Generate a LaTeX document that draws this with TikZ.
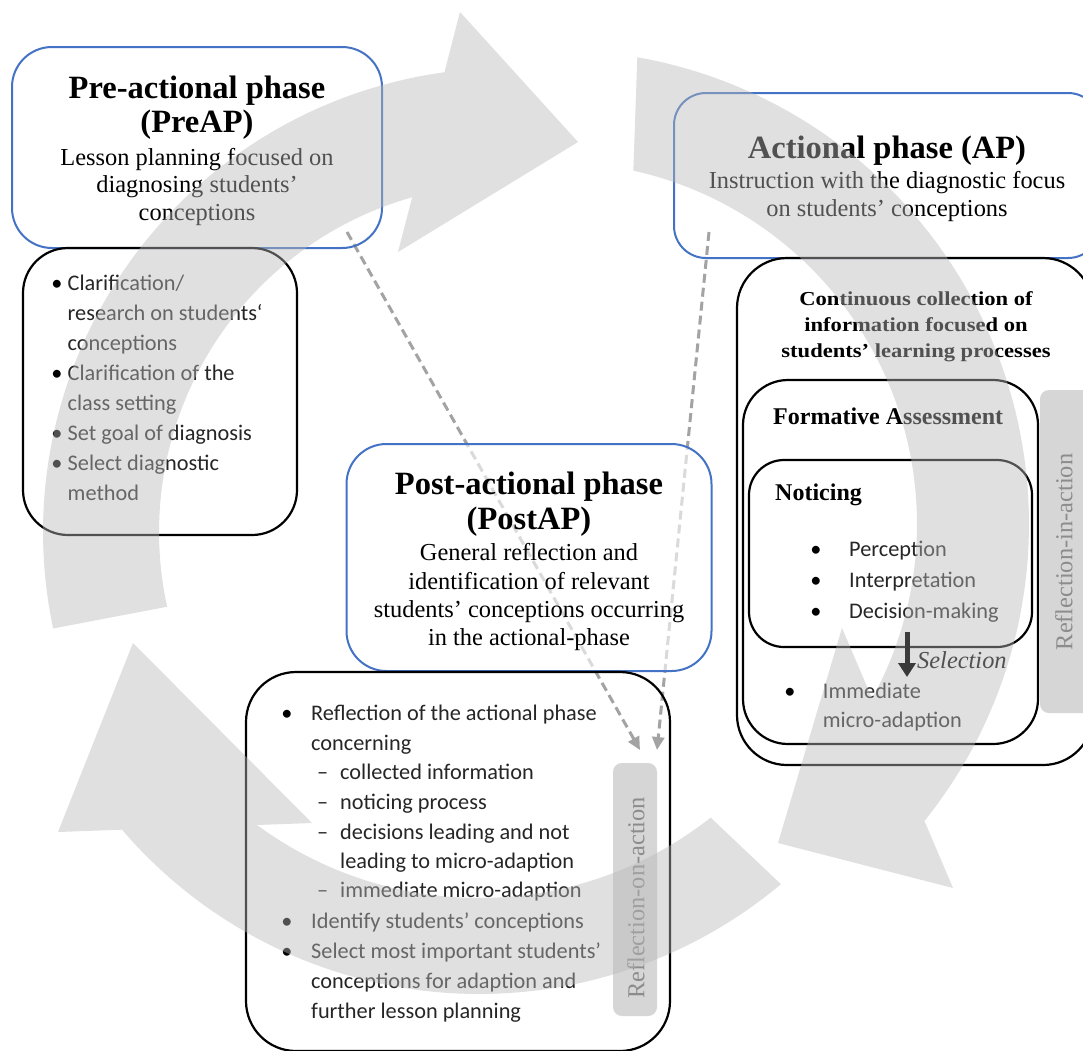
\documentclass[tikz,border=0pt]{standalone}
\usepackage{fontspec}
\setmainfont{Liberation Serif}
\newfontfamily\sansf{Carlito}
\newfontfamily\widef[FakeStretch=1.14]{Liberation Serif}
\usetikzlibrary{arrows.meta}
\definecolor{boxblue}{HTML}{4472C4}
\definecolor{dashgray}{HTML}{A3A3A3}
\definecolor{arcgray}{RGB}{185,185,185}
\definecolor{reflgray}{HTML}{D6D6D6}
\definecolor{refltext}{HTML}{8C8C8C}
\definecolor{selgray}{HTML}{3A3A3A}
\definecolor{listtext}{HTML}{262626}
\begin{document}
\begin{tikzpicture}[x=1pt,y=-1pt,
  phasebox/.style={draw=boxblue, line width=2pt, rounded corners=40pt, inner sep=0pt, rectangle},
  listbox/.style={draw=black, line width=2.2pt, rounded corners=#1, inner sep=0pt, rectangle},
  listbox/.default=45pt,
  reflbox/.style={fill=reflgray, rounded corners=9pt, inner sep=0pt, rectangle},
  ttl/.style={font=\bfseries\fontsize{32.5}{34}\selectfont, anchor=base, inner sep=0pt},
  sub/.style={font=\fontsize{24.4}{27.5}\selectfont, anchor=base, inner sep=0pt},
  hd/.style={font=\bfseries\fontsize{24}{27}\selectfont, anchor=base west, inner sep=0pt},
  wide/.style={font=\widef\bfseries\fontsize{19.8}{26}\selectfont, anchor=base, inner sep=0pt},
  li/.style={font=\sansf\fontsize{22.3}{30}\selectfont, anchor=base west, inner sep=0pt, text=listtext},
  bul/.style={font=\sansf\fontsize{22.3}{30}\selectfont, anchor=base, inner sep=0pt, text=black},
  refl/.style={font=\fontsize{24.4}{27}\selectfont, text=refltext, rotate=90, inner sep=0pt},
  dasharrow/.style={draw=dashgray, line width=3pt, dash pattern=on 9pt off 5pt, -{Triangle[length=13pt,width=12pt]}},
  selarrow/.style={draw=selgray, line width=5pt, -{Triangle[length=14pt,width=17pt]}},
  cyclearrow/.style={fill=arcgray, fill opacity=0.44}
]
\useasboundingbox (0,0) rectangle (1083,1050);
\clip (0,0) rectangle (1083,1050);
\fill[white] (0,0) rectangle (1083,1050);

% dashed connectors
\coordinate (d1s) at (347,232);
\coordinate (d1e) at (640,750);
\coordinate (d2s) at (709,232);
\coordinate (d2e) at (657,750);
\draw[dasharrow] (d1s) -- (d1e);
\draw[dasharrow] (d2s) -- (d2e);

% boxes
\node[phasebox, minimum width=370pt, minimum height=201pt] (prebox) at (197,147.5) {};
\node[listbox, minimum width=274pt, minimum height=287pt] (prelist) at (160,391.5) {};
\node[phasebox, rounded corners=32pt, minimum width=426pt, minimum height=165pt] (apbox) at (887,175.5) {};
\node[listbox=50pt, minimum width=356pt, minimum height=507pt] (apouter) at (915,511.5) {};
\node[listbox=45pt, minimum width=295pt, minimum height=364pt] (formbox) at (890.5,562) {};
\node[listbox=35pt, minimum width=283pt, minimum height=187pt] (notbox) at (890.5,553.5) {};
\node[reflbox, minimum width=60pt, minimum height=323pt] (rinbox) at (1070,551.5) {};
\node[phasebox, fill=white, fill opacity=0.6, minimum width=365pt, minimum height=227pt] (postbox) at (529,557.5) {};
\node[listbox=50pt, minimum width=424pt, minimum height=379pt] (postlist) at (458,861.5) {};
\node[reflbox, minimum width=44pt, minimum height=253pt] (ronbox) at (635,889.5) {};

% Pre-actional phase
\node[ttl] (pt1) at (197,98) {Pre-actional phase};
\node[ttl] (pt2) at (197,132) {(PreAP)};
\node[sub] (ps1) at (197,165) {Lesson planning focused on};
\node[sub] (ps2) at (197,192) {diagnosing students’};
\node[sub] (ps3) at (197,220) {conceptions};

\node[bul] (pb1) at (57,290) {•};
\node[li] (pl1) at (67.5,290) {Clarification/};
\node[li] (pl2) at (67.5,320) {research on students‘};
\node[li] (pl3) at (67.5,350) {conceptions};
\node[bul] (pb2) at (57,380) {•};
\node[li] (pl4) at (67.5,380) {Clarification of the};
\node[li] (pl5) at (67.5,410) {class setting};
\node[bul] (pb3) at (57,440) {•};
\node[li] (pl6) at (67.5,440) {Set goal of diagnosis};
\node[bul] (pb4) at (57,470) {•};
\node[li] (pl7) at (67.5,470) {Select diagnostic};
\node[li] (pl8) at (67.5,500) {method};

% Actional phase
\node[ttl] (at1) at (887,158) {Actional phase (AP)};
\node[sub] (as1) at (887,188) {Instruction with the diagnostic focus};
\node[sub] (as2) at (887,216) {on students’ conceptions};

\node[wide] (ac1) at (916,305) {Continuous collection of};
\node[wide] (ac2) at (916,331) {information focused on};
\node[wide] (ac3) at (916,357) {students’ learning processes};

\node[hd] (fa) at (773,424) {Formative Assessment};
\node[hd] (nt) at (775,500) {Noticing};

\node[bul] (ab1) at (816,556) {•};
\node[li] (al1) at (849,556) {Perception};
\node[bul] (ab2) at (816,587) {•};
\node[li] (al2) at (849,587) {Interpretation};
\node[bul] (ab3) at (816,618) {•};
\node[li] (al3) at (849,618) {Decision-making};

\node[font=\itshape\fontsize{24.4}{27}\selectfont, text=black, anchor=base west, inner sep=0pt] (sel) at (917,668) {Selection};

\node[bul] (ab4) at (790,698) {•};
\node[li] (al4) at (822.7,698) {Immediate};
\node[li] (al5) at (822.7,727) {micro-adaption};

\node[refl] (rin) at (1064,552) {Reflection-in-action};

% Post-actional phase
\node[ttl] (qt1) at (529,494.5) {Post-actional phase};
\node[ttl] (qt2) at (529,529.5) {(PostAP)};
\node[sub] (qs1) at (529,560.6) {General reflection and};
\node[sub] (qs2) at (529,589) {identification of relevant};
\node[sub] (qs3) at (529,617) {students’ conceptions occurring};
\node[sub] (qs4) at (529,645) {in the actional-phase};

\node[bul] (qb1) at (287,720) {•};
\node[li] (ql1) at (311,720) {Reflection of the actional phase};
\node[li] (ql2) at (311,750) {concerning};
\node[li] (qd1) at (317,779) {–};
\node[li] (ql3) at (340,779) {collected information};
\node[li] (qd2) at (317,809) {–};
\node[li] (ql4) at (340,809) {noticing process};
\node[li] (qd3) at (317,839) {–};
\node[li] (ql5) at (340,839) {decisions leading and not};
\node[li] (ql6) at (340,868) {leading to micro-adaption};
\node[li] (qd4) at (317,897) {–};
\node[li] (ql7) at (340,897) {immediate micro-adaption};
\node[bul] (qb2) at (287,928) {•};
\node[li] (ql8) at (311,928) {Identify students’ conceptions};
\node[bul] (qb3) at (287,958) {•};
\node[li] (ql9) at (311,958) {Select most important students’};
\node[li] (ql10) at (311,988) {conceptions for adaption and};
\node[li] (ql11) at (311,1018) {further lesson planning};

\node[refl] (ron) at (636,898) {Reflection-on-action};

% big cycle arrows (translucent overlay)
\fill[cyclearrow] plot[domain=168:262.25, samples=60] ({507+464*cos(\x)},{532+464*sin(\x)})
  -- (460,12) -- (578,142) -- (398,252) -- (412.2,197.2)
  -- plot[domain=254.2:167.6, samples=60] ({507+348*cos(\x)},{532+348*sin(\x)}) -- cycle;
\fill[cyclearrow] plot[domain=280:398.8, samples=80] ({555+474*cos(\x)},{524+474*sin(\x)})
  -- (953,888) -- (778,843) -- (842,628) -- (872.1,698.6)
  -- plot[domain=388.8:282.5, samples=80] ({555+362*cos(\x)},{524+362*sin(\x)}) -- cycle;
\fill[cyclearrow] plot[domain=50.03:139.43, samples=60] ({479+470*cos(\x)},{524+470*sin(\x)})
  -- (58,832) -- (133,643) -- (312,823) -- (257,825)
  -- plot[domain=126.4:51.73, samples=60] ({479+374*cos(\x)},{524+374*sin(\x)}) -- cycle;

% selection arrow on top
\coordinate (selS) at (907,632);
\coordinate (selE) at (907,677);
\draw[selarrow] (selS) -- (selE);
\end{tikzpicture}
\end{document}
